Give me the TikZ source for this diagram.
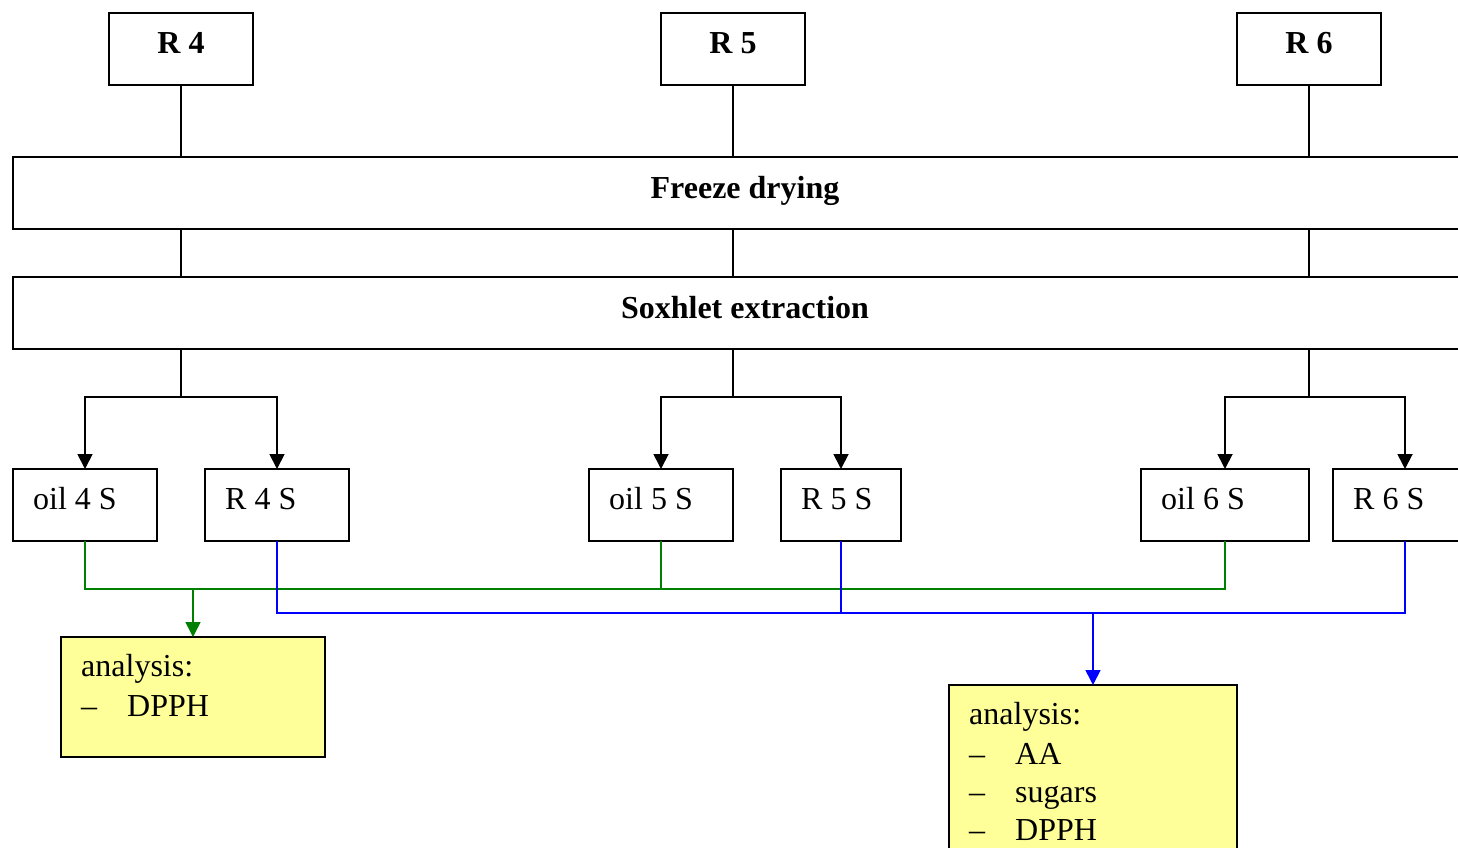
\documentclass[tikz,border=0pt]{standalone}
\usepackage{fontspec}
\setmainfont{Liberation Serif}
\usetikzlibrary{arrows.meta}
\definecolor{notefill}{HTML}{FFFF99}
\definecolor{oilline}{RGB}{0,128,0}
\definecolor{resline}{RGB}{0,0,255}
\newcommand{\itm}[1]{\makebox[46pt][l]{–}#1}
\begin{document}
\begin{tikzpicture}[x=1pt,y=-1pt,
  box/.style={draw,line width=1.8pt,inner sep=0pt,outer sep=0pt,anchor=north west,minimum height=72pt},
  note/.style={box,fill=notefill},
  txt/.style={inner sep=0pt,anchor=base west,font=\fontsize{32}{39}\selectfont},
  ctxt/.style={inner sep=0pt,anchor=base,font=\fontsize{32}{39}\selectfont\bfseries},
  link/.style={line width=1.8pt},
  arr/.style={line width=1.8pt,-{Triangle[length=15pt,width=15pt]}},
  oil/.style={line width=1.6pt,draw=oilline},
  res/.style={line width=1.6pt,draw=resline},
  oilarr/.style={oil,-{Triangle[length=15pt,width=15pt,fill=oilline]}},
  resarr/.style={res,-{Triangle[length=15pt,width=15pt,fill=resline]}}]
\useasboundingbox (0,0) rectangle (1458,848);
\clip (0,0) rectangle (1458,848);
\fill[white] (0,0) rectangle (1458,848);

% raw samples
\node[box,minimum width=144pt] (r4) at (109,13) {};
\node[box,minimum width=144pt] (r5) at (661,13) {};
\node[box,minimum width=144pt] (r6) at (1237,13) {};
\node[ctxt] (r4t) at (181,54) {R 4};
\node[ctxt] (r5t) at (733,54) {R 5};
\node[ctxt] (r6t) at (1309,54) {R 6};

% process steps
\node[box,minimum width=1520pt] (fd) at (13,157) {};
\node[ctxt] (fdt) at (745,198) {Freeze drying};
\node[box,minimum width=1520pt] (se) at (13,277) {};
\node[ctxt] (set) at (745,318) {Soxhlet extraction};

% extraction products
\node[box,minimum width=144pt] (o4) at (13,469) {};
\node[box,minimum width=144pt] (s4) at (205,469) {};
\node[box,minimum width=144pt] (o5) at (589,469) {};
\node[box,minimum width=120pt] (s5) at (781,469) {};
\node[box,minimum width=168pt] (o6) at (1141,469) {};
\node[box,minimum width=144pt] (s6) at (1333,469) {};
\node[txt] (o4t) at (33,509) {oil 4 S};
\node[txt] (s4t) at (225,509) {R 4 S};
\node[txt] (o5t) at (609,509) {oil 5 S};
\node[txt] (s5t) at (801,509) {R 5 S};
\node[txt] (o6t) at (1161,509) {oil 6 S};
\node[txt] (s6t) at (1353,509) {R 6 S};

% analyses
\node[note,minimum width=264pt,minimum height=120pt] (a1) at (61,637) {};
\node[txt] (a1a) at (81,676) {analysis:};
\node[txt] (a1b) at (81,716) {\itm{DPPH}};
\node[note,minimum width=288pt,minimum height=200pt] (a2) at (949,685) {};
\node[txt] (a2a) at (969,724) {analysis:};
\node[txt] (a2b) at (969,764) {\itm{AA}};
\node[txt] (a2c) at (969,802) {\itm{sugars}};
\node[txt] (a2d) at (969,840) {\itm{DPPH}};

% sample flow through the process steps
\foreach \r in {r4,r5,r6}{
  \draw[link] (\r.south) -- (\r.south |- fd.north);
  \draw[link] (\r.south |- fd.south) -- (\r.south |- se.north);
}
\coordinate (j4) at (181,397);
\coordinate (j5) at (733,397);
\coordinate (j6) at (1309,397);
\draw[link] (r4.south |- se.south) -- (j4);
\draw[link] (r5.south |- se.south) -- (j5);
\draw[link] (r6.south |- se.south) -- (j6);
\draw[arr] (j4) -| (o4.north);
\draw[arr] (j4) -| (s4.north);
\draw[arr] (j5) -| (o5.north);
\draw[arr] (j5) -| (s5.north);
\draw[arr] (j6) -| (o6.north);
\draw[arr] (j6) -| (s6.north);

% oils to the first analysis
\coordinate (gbus) at (1225,589);
\draw[oil] (o4.south) |- (gbus) -- (o6.south);
\draw[oil] (o5.south) -- (o5.south |- gbus);
\draw[oilarr] (a1.north |- gbus) -- (a1.north);

% residues to the second analysis
\coordinate (bbus) at (1405,613);
\draw[res] (s4.south) |- (bbus) -- (s6.south);
\draw[res] (s5.south) -- (s5.south |- bbus);
\draw[resarr] (a2.north |- bbus) -- (a2.north);
\end{tikzpicture}
\end{document}
